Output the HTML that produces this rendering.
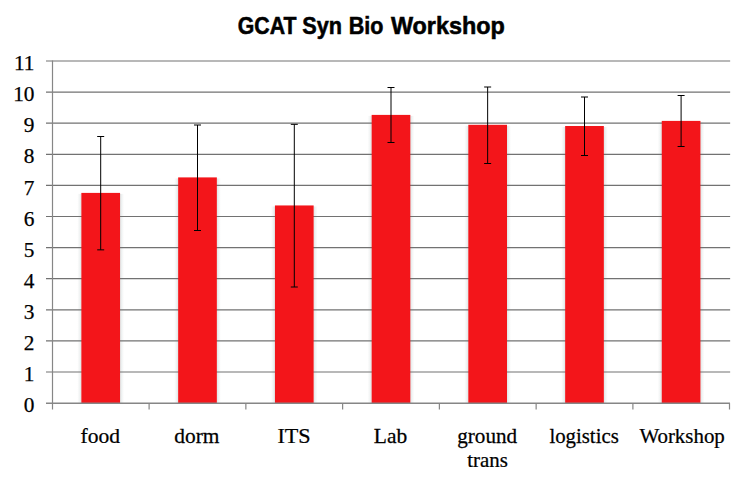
<!DOCTYPE html>
<html><head><meta charset="utf-8"><style>
html,body{margin:0;padding:0;background:#fff;width:737px;height:480px;overflow:hidden}
svg{display:block}
.s{font-family:"Liberation Serif",serif;font-size:21.3px;fill:#000;stroke:#000;stroke-width:0.25px}
.t{font-family:"Liberation Sans",sans-serif;font-weight:bold;font-size:23.6px;fill:#000;stroke:#000;stroke-width:0.55px}
</style></head><body>
<svg width="737" height="480" viewBox="0 0 737 480">
<rect x="0" y="0" width="737" height="480" fill="#fff"/>
<defs><linearGradient id="hl" x1="0" x2="1" y1="0" y2="0"><stop offset="0" stop-color="#fff"/><stop offset="0.5" stop-color="#f3f5f5"/><stop offset="1" stop-color="#dde5e5"/></linearGradient><linearGradient id="hr" x1="0" x2="1" y1="0" y2="0"><stop offset="0" stop-color="#dde5e5"/><stop offset="0.5" stop-color="#f3f5f5"/><stop offset="1" stop-color="#fff"/></linearGradient></defs>
<rect x="77.35" y="193.90" width="4" height="209.40" fill="url(#hl)"/>
<rect x="120.05" y="193.90" width="4" height="209.40" fill="url(#hr)"/>
<rect x="174.15" y="178.40" width="4" height="224.90" fill="url(#hl)"/>
<rect x="216.85" y="178.40" width="4" height="224.90" fill="url(#hr)"/>
<rect x="270.95" y="206.45" width="4" height="196.85" fill="url(#hl)"/>
<rect x="313.65" y="206.45" width="4" height="196.85" fill="url(#hr)"/>
<rect x="367.65" y="115.90" width="4" height="287.40" fill="url(#hl)"/>
<rect x="410.35" y="115.90" width="4" height="287.40" fill="url(#hr)"/>
<rect x="464.30" y="125.80" width="4" height="277.50" fill="url(#hl)"/>
<rect x="507.00" y="125.80" width="4" height="277.50" fill="url(#hr)"/>
<rect x="561.15" y="127.00" width="4" height="276.30" fill="url(#hl)"/>
<rect x="603.85" y="127.00" width="4" height="276.30" fill="url(#hr)"/>
<rect x="657.75" y="121.90" width="4" height="281.40" fill="url(#hl)"/>
<rect x="700.45" y="121.90" width="4" height="281.40" fill="url(#hr)"/>
<line x1="46" y1="372.00" x2="730.15" y2="372.00" stroke="#727272" stroke-width="1.2"/>
<line x1="46" y1="340.90" x2="730.15" y2="340.90" stroke="#727272" stroke-width="1.2"/>
<line x1="46" y1="309.80" x2="730.15" y2="309.80" stroke="#727272" stroke-width="1.2"/>
<line x1="46" y1="278.70" x2="730.15" y2="278.70" stroke="#727272" stroke-width="1.2"/>
<line x1="46" y1="247.60" x2="730.15" y2="247.60" stroke="#727272" stroke-width="1.2"/>
<line x1="46" y1="216.50" x2="730.15" y2="216.50" stroke="#727272" stroke-width="1.2"/>
<line x1="46" y1="185.40" x2="730.15" y2="185.40" stroke="#727272" stroke-width="1.2"/>
<line x1="46" y1="154.30" x2="730.15" y2="154.30" stroke="#727272" stroke-width="1.2"/>
<line x1="46" y1="123.20" x2="730.15" y2="123.20" stroke="#727272" stroke-width="1.2"/>
<line x1="46" y1="92.10" x2="730.15" y2="92.10" stroke="#727272" stroke-width="1.2"/>
<line x1="46" y1="61.00" x2="730.15" y2="61.00" stroke="#727272" stroke-width="1.2"/>
<rect x="81.35" y="192.90" width="38.70" height="210.20" fill="#F3151A"/>
<rect x="178.15" y="177.40" width="38.70" height="225.70" fill="#F3151A"/>
<rect x="274.95" y="205.45" width="38.70" height="197.65" fill="#F3151A"/>
<rect x="371.65" y="114.90" width="38.70" height="288.20" fill="#F3151A"/>
<rect x="468.30" y="124.80" width="38.70" height="278.30" fill="#F3151A"/>
<rect x="565.15" y="126.00" width="38.70" height="277.10" fill="#F3151A"/>
<rect x="661.75" y="120.90" width="38.70" height="282.20" fill="#F3151A"/>
<line x1="52.5" y1="60.50" x2="52.5" y2="409.5" stroke="#868686" stroke-width="1.2"/>
<line x1="46" y1="403.25" x2="730" y2="403.25" stroke="#868686" stroke-width="1.4"/>
<line x1="149.11" y1="403.1" x2="149.11" y2="409.5" stroke="#868686" stroke-width="1.2"/>
<line x1="245.86" y1="403.1" x2="245.86" y2="409.5" stroke="#868686" stroke-width="1.2"/>
<line x1="342.62" y1="403.1" x2="342.62" y2="409.5" stroke="#868686" stroke-width="1.2"/>
<line x1="439.38" y1="403.1" x2="439.38" y2="409.5" stroke="#868686" stroke-width="1.2"/>
<line x1="536.14" y1="403.1" x2="536.14" y2="409.5" stroke="#868686" stroke-width="1.2"/>
<line x1="632.89" y1="403.1" x2="632.89" y2="409.5" stroke="#868686" stroke-width="1.2"/>
<line x1="729.50" y1="403.1" x2="729.50" y2="409.5" stroke="#868686" stroke-width="1.2"/>
<line x1="100.70" y1="136.50" x2="100.70" y2="249.85" stroke="#000" stroke-width="1"/>
<line x1="97.20" y1="136.50" x2="104.20" y2="136.50" stroke="#000" stroke-width="1"/>
<line x1="97.20" y1="249.85" x2="104.20" y2="249.85" stroke="#000" stroke-width="1"/>
<line x1="197.50" y1="125.00" x2="197.50" y2="230.50" stroke="#000" stroke-width="1"/>
<line x1="194.00" y1="125.00" x2="201.00" y2="125.00" stroke="#000" stroke-width="1"/>
<line x1="194.00" y1="230.50" x2="201.00" y2="230.50" stroke="#000" stroke-width="1"/>
<line x1="294.30" y1="124.35" x2="294.30" y2="287.00" stroke="#000" stroke-width="1"/>
<line x1="290.80" y1="124.35" x2="297.80" y2="124.35" stroke="#000" stroke-width="1"/>
<line x1="290.80" y1="287.00" x2="297.80" y2="287.00" stroke="#000" stroke-width="1"/>
<line x1="391.00" y1="87.50" x2="391.00" y2="142.50" stroke="#000" stroke-width="1"/>
<line x1="387.50" y1="87.50" x2="394.50" y2="87.50" stroke="#000" stroke-width="1"/>
<line x1="387.50" y1="142.50" x2="394.50" y2="142.50" stroke="#000" stroke-width="1"/>
<line x1="487.65" y1="87.00" x2="487.65" y2="163.50" stroke="#000" stroke-width="1"/>
<line x1="484.15" y1="87.00" x2="491.15" y2="87.00" stroke="#000" stroke-width="1"/>
<line x1="484.15" y1="163.50" x2="491.15" y2="163.50" stroke="#000" stroke-width="1"/>
<line x1="584.50" y1="97.00" x2="584.50" y2="155.50" stroke="#000" stroke-width="1"/>
<line x1="581.00" y1="97.00" x2="588.00" y2="97.00" stroke="#000" stroke-width="1"/>
<line x1="581.00" y1="155.50" x2="588.00" y2="155.50" stroke="#000" stroke-width="1"/>
<line x1="681.10" y1="95.50" x2="681.10" y2="146.50" stroke="#000" stroke-width="1"/>
<line x1="677.60" y1="95.50" x2="684.60" y2="95.50" stroke="#000" stroke-width="1"/>
<line x1="677.60" y1="146.50" x2="684.60" y2="146.50" stroke="#000" stroke-width="1"/>
<text x="34.5" y="412.20" text-anchor="end" class="s">0</text>
<text x="34.5" y="381.10" text-anchor="end" class="s">1</text>
<text x="34.5" y="350.00" text-anchor="end" class="s">2</text>
<text x="34.5" y="318.90" text-anchor="end" class="s">3</text>
<text x="34.5" y="287.80" text-anchor="end" class="s">4</text>
<text x="34.5" y="256.70" text-anchor="end" class="s">5</text>
<text x="34.5" y="225.60" text-anchor="end" class="s">6</text>
<text x="34.5" y="194.50" text-anchor="end" class="s">7</text>
<text x="34.5" y="163.40" text-anchor="end" class="s">8</text>
<text x="34.5" y="132.30" text-anchor="end" class="s">9</text>
<text x="34.5" y="101.20" text-anchor="end" class="s">10</text>
<text x="34.5" y="70.10" text-anchor="end" class="s">11</text>
<text x="0" y="442.75" class="s" transform="translate(80.60,0) scale(1.0111,1)">food</text>
<text x="0" y="442.75" class="s" transform="translate(174.34,0) scale(1.0042,1)">dorm</text>
<text x="0" y="442.75" class="s" transform="translate(277.41,0) scale(1.0429,1)">ITS</text>
<text x="0" y="442.75" class="s" transform="translate(373.86,0) scale(1.0083,1)">Lab</text>
<text x="0" y="442.75" class="s" transform="translate(457.25,0) scale(0.9930,1)">ground</text>
<text x="0" y="467.25" class="s" transform="translate(467.29,0) scale(0.9822,1)">trans</text>
<text x="0" y="442.75" class="s" transform="translate(549.38,0) scale(0.9776,1)">logistics</text>
<text x="0" y="442.75" class="s" transform="translate(639.40,0) scale(0.9819,1)">Workshop</text>
<text x="0" y="33.55" class="t" transform="translate(237.75,0) scale(0.9014,1)">GCAT</text>
<text x="0" y="33.55" class="t" transform="translate(302.35,0) scale(0.9181,1)">Syn</text>
<text x="0" y="33.55" class="t" transform="translate(348.69,0) scale(0.9124,1)">Bio</text>
<text x="0" y="33.55" class="t" transform="translate(390.90,0) scale(0.9913,1)">Workshop</text>
</svg>
</body></html>
